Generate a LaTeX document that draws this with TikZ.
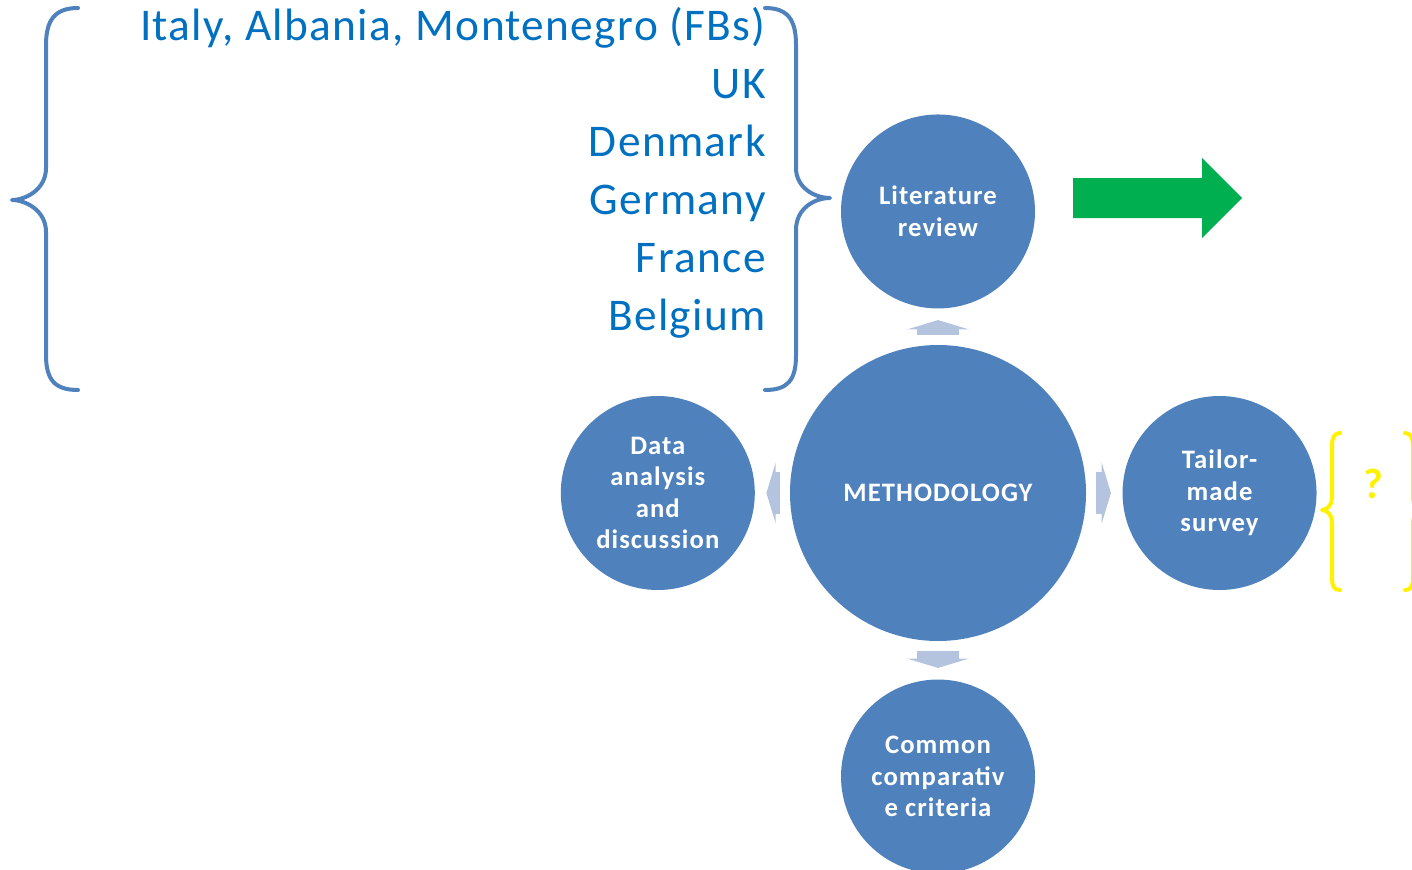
\documentclass[tikz,border=0pt]{standalone}
\usepackage{fontspec}
\setmainfont{Carlito}
\usetikzlibrary{positioning,arrows.meta}
\definecolor{circblue}{HTML}{4F81BD}
\definecolor{linkblue}{HTML}{B4C4DF}
\definecolor{listblue}{HTML}{0070C0}
\definecolor{arrowgreen}{HTML}{00B050}
\begin{document}
\begin{tikzpicture}[x=0.75pt, y=-0.75pt]
    \tikzstyle{phase} = [circle, fill = circblue, text = white, align = center, inner sep = 0pt, minimum size = 145.5pt, font = \bfseries\fontsize{20}{23.6}\selectfont\addfontfeature{LetterSpace=4}]
    \tikzstyle{hub} = [phase, minimum size = 222pt]
    \tikzstyle{link} = [line width = 31.5pt, draw = linkblue, -{Triangle[width = 46pt, length = 7pt]}, shorten <= 7pt, shorten >= 8.5pt]
    \tikzstyle{brace} = [line width = 3pt, draw = circblue, line cap = round, line join = round]
    \useasboundingbox (0,0) rectangle (1412,870);

    \node[hub](meth) at (938,493){METHODOLOGY};
    \node[phase, above = 27pt of meth](lit){Literature\\review};
    \node[phase, left = 26pt of meth](data){Data\\analysis\\and\\discussion};
    \node[phase, right = 27pt of meth](survey){Tailor-\\made\\survey};
    \node[phase, below = 28.5pt of meth](crit){Common\\comparativ\\e criteria};

    \draw[link](meth)--(lit);
    \draw[link](meth)--(data);
    \draw[link](meth)--(survey);
    \draw[link](meth)--(crit);

    % countries
    \node[anchor = north east, align = right, inner sep = 0pt, text = listblue, font = \fontsize{34}{43.5}\selectfont\addfontfeature{LetterSpace=3}](countries) at (766,7){Italy, Albania, Montenegro (FBs)\\UK\\Denmark\\Germany\\France\\Belgium};
    \draw[brace](78,8) .. controls (55,8) and (46,20) .. (46,45) -- (46,168) .. controls (46,190) and (25,200) .. (12,200) .. controls (25,200) and (46,210) .. (46,232) -- (46,355) .. controls (46,380) and (55,390) .. (78,390);
    \draw[brace](765,8) .. controls (788,8) and (796,20) .. (796,45) -- (796,168) .. controls (796,188) and (815,198) .. (830,198) .. controls (815,198) and (796,208) .. (796,230) -- (796,355) .. controls (796,380) and (788,390) .. (765,390);

    \fill[arrowgreen](1073,178) -- (1202,178) -- (1202,158) -- (1242,198) -- (1202,238) -- (1202,218) -- (1073,218) -- cycle;

    % open question
    \draw[brace, draw = yellow](1340,433) .. controls (1334,433) and (1332,438) .. (1332,446) -- (1332,498) .. controls (1332,505) and (1327,510) .. (1322,510) .. controls (1327,510) and (1332,515) .. (1332,522) -- (1332,578) .. controls (1332,586) and (1334,590) .. (1340,590);
    \draw[brace, draw = yellow](1405,433) .. controls (1411,433) and (1413,438) .. (1413,446) -- (1413,498) .. controls (1413,505) and (1418,510) .. (1423,510) .. controls (1418,510) and (1413,515) .. (1413,522) -- (1413,578) .. controls (1413,586) and (1411,590) .. (1405,590);
    \node[text = yellow, font = \bfseries\fontsize{32}{34}\selectfont](question) at (1373,484){?};
\end{tikzpicture}
\end{document}
